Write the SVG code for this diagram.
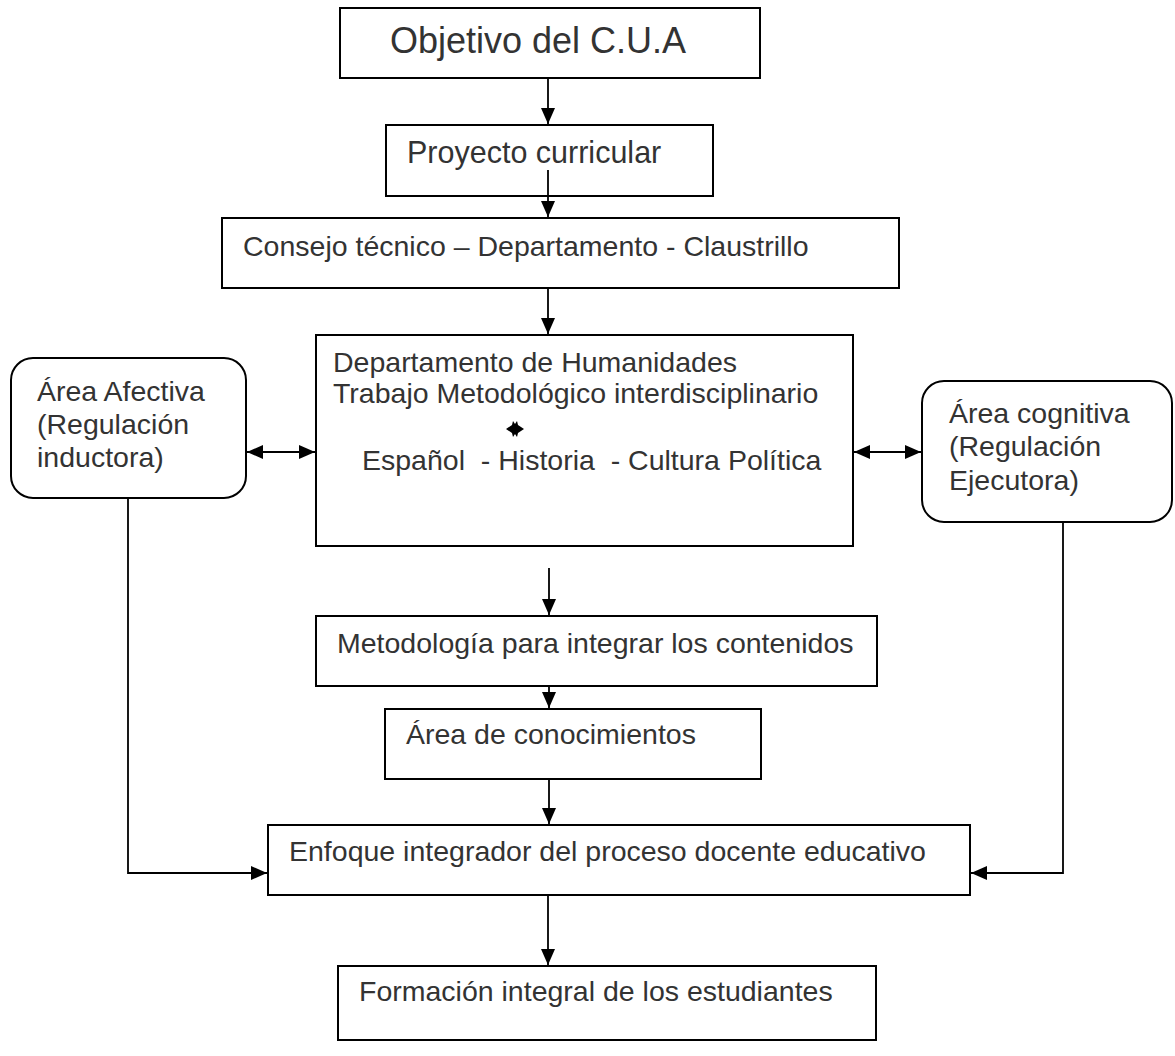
<svg xmlns="http://www.w3.org/2000/svg" width="1175" height="1056" viewBox="0 0 1175 1056">
  <style>
    .box { fill: #ffffff; stroke: #000000; stroke-width: 2; }
    .txt { font-family: "Liberation Sans", Arial, sans-serif; font-size: 28.5px; fill: #333333; white-space: pre; }
    .con { fill: none; stroke: #000000; stroke-width: 1.8; }
  </style>
  <defs>
    <marker id="ah" markerUnits="userSpaceOnUse" markerWidth="17" markerHeight="15" refX="16" refY="7" orient="auto-start-reverse">
      <path d="M0,0 L16,7 L0,14 z" fill="#000000"/>
    </marker>
  </defs>
  <rect width="1175" height="1056" fill="#ffffff"/>

  <g id="n-objetivo">
    <rect class="box" x="340" y="8" width="420" height="70"/>
    <text class="txt" x="390" y="53" style="font-size:36px">Objetivo del C.U.A</text>
  </g>
  <g id="n-proyecto">
    <rect class="box" x="386" y="125" width="327" height="71"/>
    <text class="txt" x="407" y="163" style="font-size:30.5px">Proyecto curricular</text>
  </g>
  <g id="n-consejo">
    <rect class="box" x="222" y="218" width="677" height="70"/>
    <text class="txt" x="243" y="256">Consejo técnico – Departamento - Claustrillo</text>
  </g>
  <g id="n-departamento">
    <rect class="box" x="316" y="335" width="537" height="211"/>
    <text class="txt" x="333" y="372">Departamento de Humanidades</text>
    <text class="txt" x="333" y="403">Trabajo Metodológico interdisciplinario</text>
    <path d="M506,429 L512,425 L513,421 L515,424 L517,421 L518,425 L524,429 L518,433 L517,437 L515,434 L513,437 L512,433 z" fill="#000000"/>
    <text class="txt" x="362" y="470">Español  - Historia  - Cultura Política</text>
  </g>
  <g id="n-afectiva">
    <rect class="box" x="11" y="358" width="235" height="140" rx="22" ry="22"/>
    <text class="txt" x="37" y="401">Área Afectiva</text>
    <text class="txt" x="37" y="434">(Regulación</text>
    <text class="txt" x="37" y="467">inductora)</text>
  </g>
  <g id="n-cognitiva">
    <rect class="box" x="922" y="381" width="250" height="141" rx="22" ry="22"/>
    <text class="txt" x="949" y="423">Área cognitiva</text>
    <text class="txt" x="949" y="456">(Regulación</text>
    <text class="txt" x="949" y="490">Ejecutora)</text>
  </g>
  <g id="n-metodologia">
    <rect class="box" x="316" y="616" width="561" height="70"/>
    <text class="txt" x="337" y="653">Metodología para integrar los contenidos</text>
  </g>
  <g id="n-area-conocimientos">
    <rect class="box" x="385" y="709" width="376" height="70"/>
    <text class="txt" x="406" y="744">Área de conocimientos</text>
  </g>
  <g id="n-enfoque">
    <rect class="box" x="268" y="825" width="702" height="70"/>
    <text class="txt" x="289" y="861">Enfoque integrador del proceso docente educativo</text>
  </g>
  <g id="n-formacion">
    <rect class="box" x="338" y="966" width="538" height="74"/>
    <text class="txt" x="359" y="1001">Formación integral de los estudiantes</text>
  </g>

  <g id="connectors">
    <line class="con" x1="548" y1="78" x2="548" y2="124" marker-end="url(#ah)"/>
    <line class="con" x1="548" y1="170" x2="548" y2="217" marker-end="url(#ah)"/>
    <line class="con" x1="548" y1="288" x2="548" y2="334" marker-end="url(#ah)"/>
    <line class="con" x1="247" y1="452" x2="315" y2="452" marker-start="url(#ah)" marker-end="url(#ah)"/>
    <line class="con" x1="854" y1="452" x2="921" y2="452" marker-start="url(#ah)" marker-end="url(#ah)"/>
    <line class="con" x1="549" y1="568" x2="549" y2="615" marker-end="url(#ah)"/>
    <line class="con" x1="549" y1="686" x2="549" y2="708" marker-end="url(#ah)"/>
    <line class="con" x1="549" y1="779" x2="549" y2="824" marker-end="url(#ah)"/>
    <polyline class="con" points="128,498 128,873 267,873" marker-end="url(#ah)"/>
    <polyline class="con" points="1063,522 1063,873 971,873" marker-end="url(#ah)"/>
    <line class="con" x1="548" y1="895" x2="548" y2="965" marker-end="url(#ah)"/>
  </g>
</svg>
